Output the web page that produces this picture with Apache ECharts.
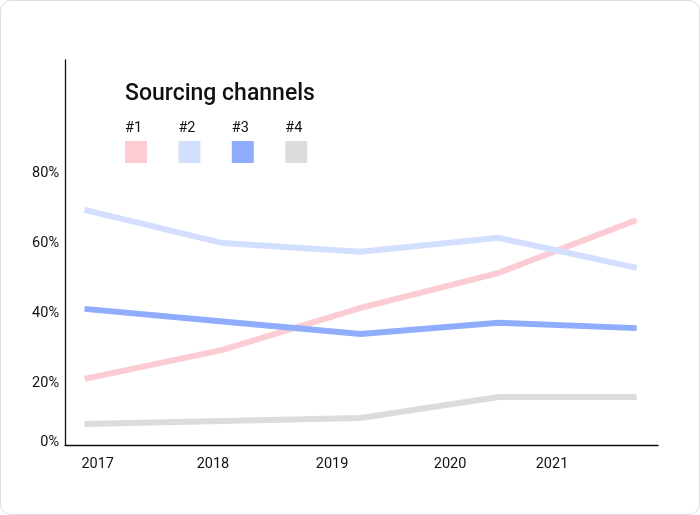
<!DOCTYPE html>
<html>
<head>
<meta charset="utf-8">
<script src="https://cdn.jsdelivr.net/npm/echarts@6/dist/echarts.min.js"></script>
<style>
  html, body { margin: 0; padding: 0; background: #fff; }
  #card { position: absolute; left: 0; top: 0; width: 700px; height: 515px; box-sizing: border-box;
          border: 1.5px solid #dcdcdc; border-radius: 11px; overflow: hidden; }
  #chart { position: absolute; left: 0; top: 0; width: 700px; height: 515px; }
</style>
</head>
<body>
<div id="card"></div>
<div id="chart"></div>
<script>
// ---- data ----
const years = ['2017', '2018', '2019', '2020', '2021'];
const seriesNames = ['#1', '#2', '#3', '#4'];
const s1 = [20.8, 29.1, 41.1, 51.1, 66.2];
const s2 = [69.1, 59.6, 57.1, 61.1, 52.5];
const s3 = [40.8, 37.2, 33.6, 36.8, 35.3];
const s4 = [7.9, 8.8, 9.6, 15.6, 15.6];
const yTickLabels = ['0%', '20%', '40%', '60%', '80%'];
const titleText = 'Sourcing channels';

// ---- layout / style ----
const colors = ['#fbccd4', '#d3dfff', '#8fadfc', '#dcdcdc'];
const xLabelPos = [0.095, 0.93, 1.793, 2.648, 3.387];   // label anchor positions on index scale
const yLabelPos = [2.7, 19.4, 39.4, 59.4, 79.4];        // label anchor positions on value scale
const fam = 'Roboto';

const allSeries = [s1, s2, s3, s4];
const chart = echarts.init(document.getElementById('chart'));

const legendGraphics = [];
seriesNames.forEach((n, i) => {
  const x0 = 125 + i * 53.4;
  legendGraphics.push({
    type: 'text', left: x0, top: 121,
    style: { text: n, fontSize: 14.5, fontFamily: fam, fill: '#111' }
  });
  legendGraphics.push({
    type: 'rect', shape: { x: x0, y: 141, width: 22, height: 22 },
    style: { fill: colors[i] }
  });
});

const labelStyle = { color: '#111', fontSize: 14.5, fontFamily: fam };

chart.setOption({
  animation: false,
  grid: { left: 65, right: 42, top: 60, bottom: 70 },
  xAxis: {
    type: 'value', min: -0.142, max: 4.155,
    splitLine: { show: false },
    axisLine: { show: true, onZero: false, lineStyle: { color: '#111', width: 1.3 } },
    axisTick: { show: false },
    axisLabel: Object.assign({
      customValues: xLabelPos,
      formatter: (v) => years[xLabelPos.indexOf(v)] ?? '',
      margin: 12
    }, labelStyle)
  },
  yAxis: {
    type: 'value', min: 1.91, max: 111.9,
    splitLine: { show: false },
    axisLine: { show: true, onZero: false, lineStyle: { color: '#111', width: 1.3 } },
    axisTick: { show: false },
    axisLabel: Object.assign({
      customValues: yLabelPos,
      formatter: (v) => yTickLabels[yLabelPos.indexOf(v)] ?? '',
      margin: 6
    }, labelStyle)
  },
  graphic: [
    { type: 'text', left: 125, top: 83,
      style: { text: titleText, fontSize: 23, fontWeight: 500, fontFamily: fam, fill: '#111' } },
    ...legendGraphics
  ],
  series: allSeries.map((d, i) => ({
    type: 'line', name: seriesNames[i],
    data: d.map((v, k) => [k, v]),
    symbol: 'none',
    lineStyle: { color: colors[i], width: 6, cap: 'butt', join: 'miter' },
    z: i === 2 ? 3 : 2
  }))
});
</script>
</body>
</html>
